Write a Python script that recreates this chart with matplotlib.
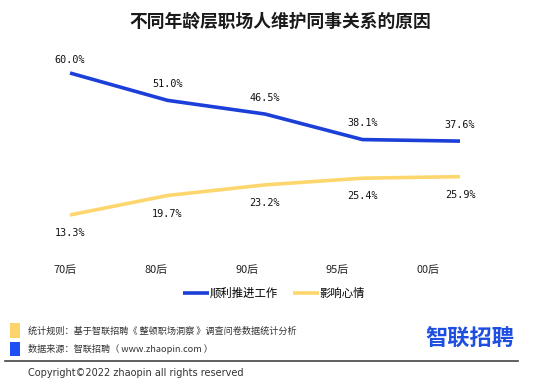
import numpy as np
import matplotlib.pyplot as plt
from matplotlib.patches import Rectangle

plt.rcParams['font.family'] = ['Noto Sans CJK SC', 'DejaVu Sans']

# data
groups = ['70后', '80后', '90后', '95后', '00后']
work = [60.0, 51.0, 46.5, 38.1, 37.6]     # 顺利推进工作
mood = [13.3, 19.7, 23.2, 25.4, 25.9]     # 影响心情
series_names = ['顺利推进工作', '影响心情']

title = '不同年龄层职场人维护同事关系的原因'
note_rule = '统计规则：基于智联招聘《 整顿职场洞察 》调查问卷数据统计分析'
note_src = '数据来源：智联招聘（ www.zhaopin.com ）'
copyright_txt = 'Copyright©2022 zhaopin all rights reserved'

BLUE = '#1b3fd8'
YELLOW = '#fdd66e'

W, H = 559, 386
fig = plt.figure(figsize=(W / 100, H / 100), dpi=100)

# plot area in pixels: left 21, right 509, y=0 at 255, 3.04 px per %
L, R, Y0, PX = 21.25, 508.75, 255.4, 3.04
top_val = 70
ax = fig.add_axes([L / W, 1 - Y0 / H, (R - L) / W, top_val * PX / H])
ax.set_xlim(-0.5, 4.5)
ax.set_ylim(0, top_val)
ax.axis('off')

x = np.arange(len(groups))
ax.plot(x, work, color=BLUE, lw=2.6, solid_joinstyle='round', solid_capstyle='butt')
ax.plot(x, mood, color=YELLOW, lw=2.6, solid_joinstyle='round', solid_capstyle='butt')

lab_font = dict(family='DejaVu Sans Mono', fontsize=7.3, color='#111111', ha='center', va='center')
for i, v in enumerate(work):
    off = 13 if i == 0 else 16.5
    ax.annotate(f'{v:.1f}%', (i, v), xytext=(0, off * 0.72), textcoords='offset points', **lab_font)
for i, v in enumerate(mood):
    ax.annotate(f'{v:.1f}%', (i, v), xytext=(0, -18 * 0.72), textcoords='offset points', **lab_font)

# category labels sit on their own spacing in the reference
tx = fig.add_axes([L / W, 1 - 270 / H, (R - L) / W, 0.001])
step = 90.7
xmin = (L - 65.5) / step
tx.set_xlim(xmin, xmin + (R - L) / step)
tx.set_ylim(0, 1)
tx.axis('off')
for i, g in enumerate(groups):
    tx.text(i, 0, g, ha='center', va='center', fontsize=7.9, color='#222222')

fig.text(280 / W, 1 - 22 / H, title, ha='center', va='center', fontsize=12.8,
         fontweight='bold', color='#1a1a1a')

# legend
leg = fig.legend(handles=ax.get_lines(), labels=series_names, loc='center',
                 bbox_to_anchor=(274 / W, 1 - 293 / H), ncol=2, frameon=False,
                 fontsize=8.2, handlelength=2.3, handletextpad=0.05, columnspacing=1.3)

# footer
fig.patches.append(Rectangle((10 / W, 1 - 338 / H), 10 / W, 15 / H, transform=fig.transFigure,
                             color='#fdd36b', lw=0))
fig.patches.append(Rectangle((10 / W, 1 - 356 / H), 10 / W, 14 / H, transform=fig.transFigure,
                             color='#1f4ff2', lw=0))
fig.text(28 / W, 1 - 331 / H, note_rule, ha='left', va='center', fontsize=6.6, color='#333333')
fig.text(28 / W, 1 - 349 / H, note_src, ha='left', va='center', fontsize=6.6, color='#333333')
fig.text(470 / W, 1 - 339 / H, '智联招聘', ha='center', va='center', fontsize=16,
         fontweight='bold', color='#1f4fe0')
fig.add_artist(plt.Line2D([5 / W, 518 / W], [1 - 361 / H, 1 - 361 / H], color='#444444', lw=1.2))
fig.text(28 / W, 1 - 373 / H, copyright_txt, ha='left', va='center', fontsize=7,
         family='DejaVu Sans', color='#333333')

fig.savefig('out.png', dpi=100)
